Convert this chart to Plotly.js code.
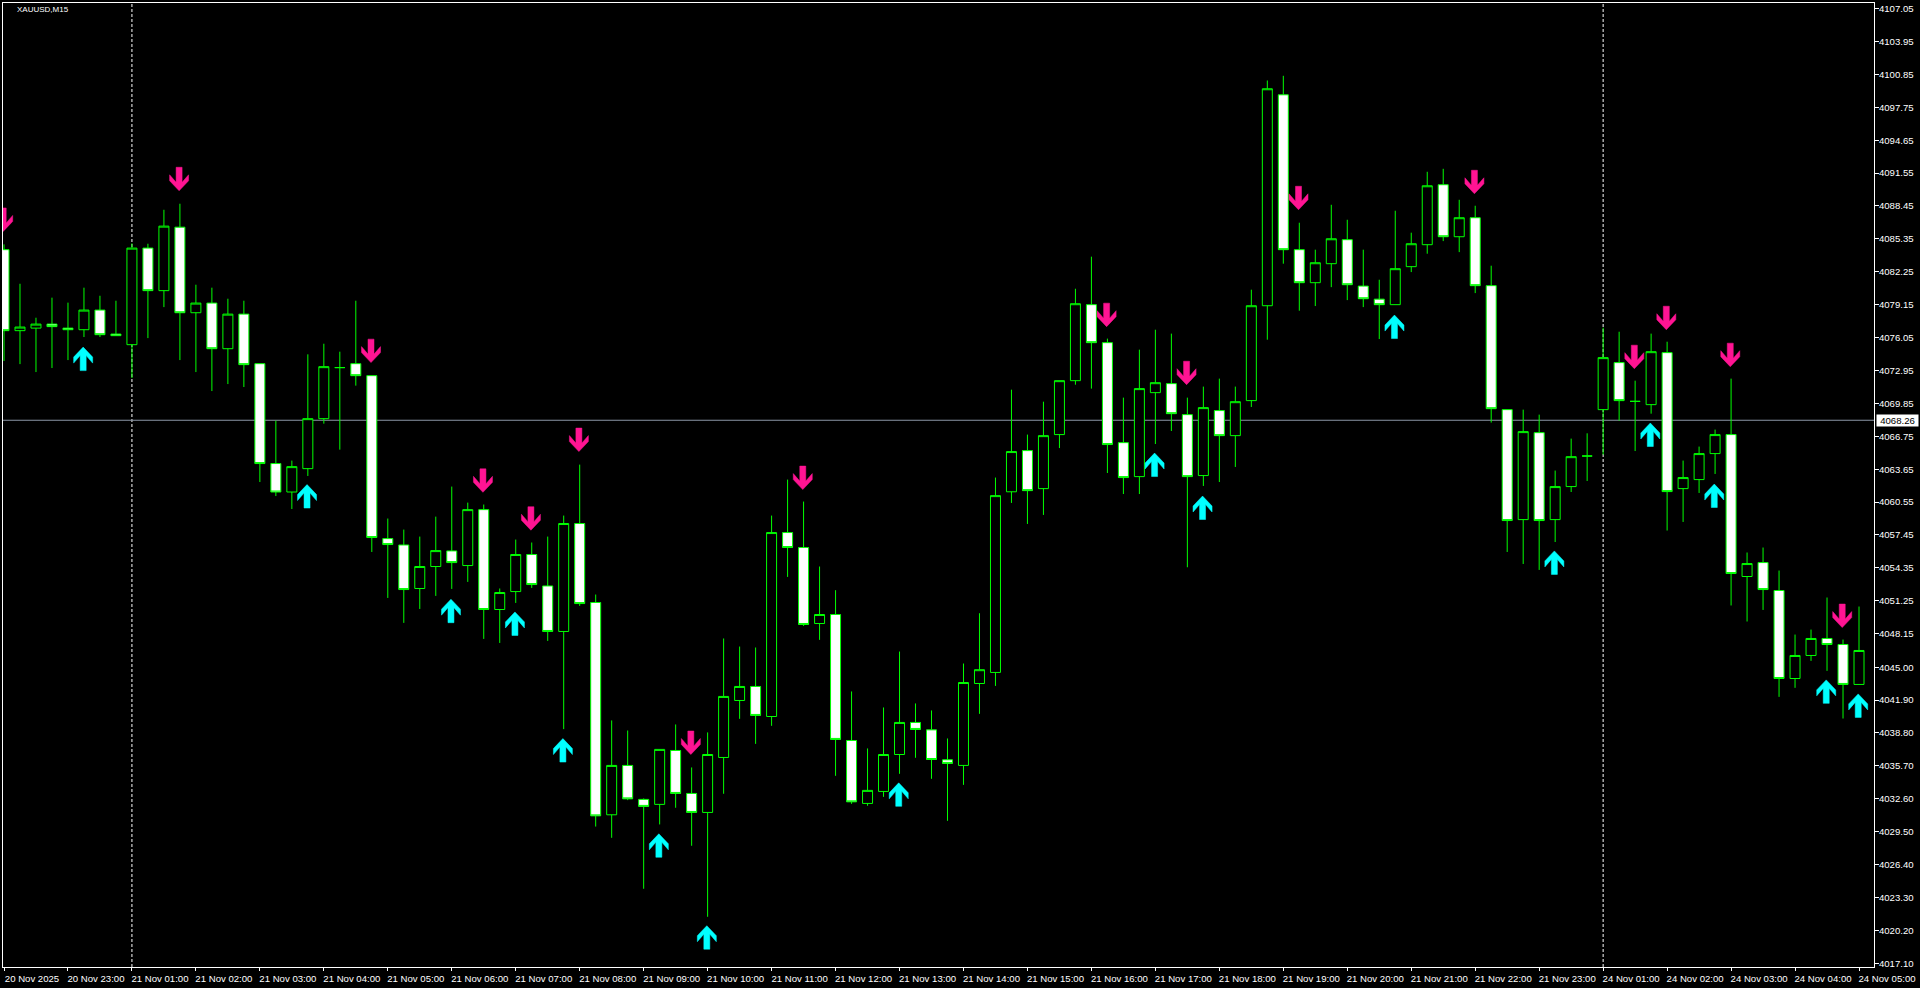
<!DOCTYPE html>
<html>
<head>
<meta charset="utf-8">
<title>XAUUSD,M15</title>
<script src="https://cdn.plot.ly/plotly-3.0.1.min.js"></script>
<style>html,body{margin:0;padding:0;background:#000;overflow:hidden}#chart{width:1920px;height:988px}</style>
</head>
<body>
<div id="chart"></div>
<script>
const barOpen = [4084.33,4076.70,4076.94,4077.32,4076.94,4076.79,4078.64,4076.38,4075.38,4084.48,4080.47,4086.45,4078.39,4079.30,4075.00,4078.26,4073.59,4064.18,4061.50,4063.70,4068.41,4073.22,4073.59,4072.46,4057.11,4056.51,4052.41,4054.48,4055.95,4054.57,4059.84,4050.43,4052.12,4055.61,4052.65,4048.36,4058.53,4051.09,4031.09,4035.74,4032.54,4032.07,4037.15,4033.10,4031.31,4036.49,4041.86,4043.18,4040.35,4057.68,4056.27,4049.11,4049.96,4038.09,4032.16,4033.29,4036.77,4039.79,4039.09,4036.27,4035.74,4043.46,4044.50,4061.52,4065.40,4061.82,4066.91,4071.99,4079.15,4075.57,4066.15,4062.95,4070.86,4071.71,4068.79,4063.05,4069.17,4066.81,4070.11,4079.05,4098.92,4084.33,4081.22,4083.01,4085.27,4080.90,4079.67,4079.15,4082.73,4084.80,4090.45,4085.55,4087.34,4080.94,4069.26,4058.90,4067.09,4058.90,4062.01,4064.89,4069.26,4073.69,4070.04,4069.73,4074.63,4061.82,4062.67,4065.12,4066.91,4053.54,4054.85,4052.22,4043.93,4046.10,4047.70,4047.13,4043.37];
const barHigh = [4084.83,4081.12,4077.92,4079.81,4079.34,4080.75,4079.99,4079.52,4084.92,4084.89,4088.09,4088.66,4081.03,4080.75,4079.71,4079.52,4073.59,4068.22,4064.46,4074.47,4075.47,4074.72,4079.52,4072.46,4059.00,4057.96,4057.30,4059.18,4062.01,4060.50,4060.32,4052.41,4057.02,4056.74,4057.30,4059.28,4064.08,4051.84,4039.98,4039.03,4032.63,4037.25,4039.60,4035.55,4038.85,4047.70,4046.94,4046.85,4059.28,4062.67,4060.60,4054.48,4052.25,4042.71,4037.34,4041.20,4046.47,4041.58,4040.92,4038.28,4045.34,4050.08,4062.86,4071.14,4066.91,4070.01,4071.99,4080.65,4083.67,4075.95,4070.39,4074.91,4076.79,4076.42,4070.39,4071.43,4072.18,4071.43,4080.56,4100.27,4100.71,4086.87,4084.33,4088.56,4087.15,4084.33,4081.50,4088.00,4085.93,4091.67,4091.95,4089.03,4088.47,4082.82,4069.26,4069.26,4068.79,4063.52,4066.53,4067.03,4076.98,4076.60,4071.99,4076.42,4075.66,4064.46,4065.78,4067.38,4072.18,4055.80,4056.27,4054.10,4048.07,4048.54,4051.56,4047.60,4050.71];
const barLow = [4073.84,4073.55,4072.80,4073.18,4073.93,4076.10,4076.10,4076.23,4072.24,4076.00,4078.92,4073.93,4072.80,4071.01,4071.67,4071.39,4062.44,4061.12,4059.90,4063.01,4067.94,4065.49,4071.52,4055.85,4051.52,4049.17,4050.48,4051.71,4052.37,4053.03,4047.66,4047.28,4051.05,4052.46,4047.47,4039.16,4050.77,4029.98,4028.92,4032.47,4024.12,4030.18,4031.75,4028.17,4021.48,4033.07,4040.13,4037.77,4039.47,4053.50,4048.88,4047.57,4034.76,4032.12,4031.94,4032.78,4034.95,4036.46,4034.48,4030.52,4033.91,4040.60,4043.23,4060.47,4058.49,4059.34,4065.64,4071.61,4071.24,4063.29,4061.31,4061.31,4066.02,4067.25,4054.41,4062.07,4062.44,4063.86,4069.51,4075.85,4083.01,4078.58,4079.02,4080.80,4079.58,4078.92,4075.91,4079.15,4082.22,4083.95,4085.14,4084.10,4080.24,4068.04,4055.85,4054.72,4054.16,4056.79,4061.50,4062.54,4065.02,4068.22,4065.36,4068.88,4057.87,4058.68,4061.41,4063.20,4050.81,4049.30,4050.39,4042.20,4043.05,4045.59,4044.65,4040.16,4043.37];
const barClose = [4076.70,4077.04,4077.32,4077.08,4076.79,4078.64,4076.32,4076.23,4084.48,4080.47,4086.55,4078.39,4079.30,4075.00,4078.26,4073.50,4064.18,4061.50,4063.89,4068.41,4073.31,4073.22,4072.46,4057.21,4056.55,4052.31,4054.48,4055.98,4054.85,4059.84,4050.43,4052.03,4055.61,4052.78,4048.36,4058.53,4050.99,4030.99,4035.74,4032.59,4031.88,4037.25,4033.10,4031.31,4036.77,4042.24,4043.18,4040.45,4057.68,4056.27,4049.02,4049.96,4038.19,4032.31,4033.39,4036.77,4039.79,4039.13,4036.30,4035.93,4043.55,4044.76,4061.16,4065.31,4061.63,4066.81,4071.99,4079.24,4075.57,4065.97,4062.86,4071.24,4071.80,4068.88,4062.95,4069.45,4066.81,4070.01,4079.05,4099.49,4084.33,4081.22,4083.10,4085.36,4081.03,4079.71,4079.15,4082.54,4084.89,4090.35,4085.55,4087.34,4080.94,4069.35,4058.81,4067.19,4058.81,4062.01,4064.83,4064.89,4074.16,4070.11,4070.04,4074.72,4061.54,4062.86,4065.12,4066.91,4053.82,4054.76,4052.31,4043.93,4046.10,4047.70,4047.13,4043.37,4046.57];

const sellBars = [0,11,23,30,33,36,43,50,69,74,81,92,102,104,108,115];
const sellTips = [4086.05,4089.88,4073.69,4061.47,4057.90,4065.31,4036.77,4061.73,4077.08,4071.61,4088.09,4089.60,4073.12,4076.79,4073.31,4048.73];
const buyBars = [5,19,28,32,35,41,44,56,72,75,87,97,103,107,114,116];
const buyTips = [4075.15,4062.20,4051.40,4050.20,4038.27,4029.30,4020.64,4034.10,4065.17,4061.12,4078.17,4055.95,4068.00,4062.25,4043.80,4042.48];

const timeTickBars = [0,4,8,12,16,20,24,28,32,36,40,44,48,52,56,60,64,68,72,76,80,84,88,92,96,100,104,108,112,116];
const timeTickLabels = ["20 Nov 2025","20 Nov 23:00","21 Nov 01:00","21 Nov 02:00","21 Nov 03:00","21 Nov 04:00","21 Nov 05:00","21 Nov 06:00","21 Nov 07:00","21 Nov 08:00","21 Nov 09:00","21 Nov 10:00","21 Nov 11:00","21 Nov 12:00","21 Nov 13:00","21 Nov 14:00","21 Nov 15:00","21 Nov 16:00","21 Nov 17:00","21 Nov 18:00","21 Nov 19:00","21 Nov 20:00","21 Nov 21:00","21 Nov 22:00","21 Nov 23:00","24 Nov 01:00","24 Nov 02:00","24 Nov 03:00","24 Nov 04:00","24 Nov 05:00"];
const priceTicks = [4107.05,4103.95,4100.85,4097.75,4094.65,4091.55,4088.45,4085.35,4082.25,4079.15,4076.05,4072.95,4069.85,4066.75,4063.65,4060.55,4057.45,4054.35,4051.25,4048.15,4045.00,4041.90,4038.80,4035.70,4032.60,4029.50,4026.40,4023.30,4020.20,4017.10];
const daySeparators = [8,100];
const bidPrice = 4068.26;

const W = 1920, H = 988;
const M = {l:2.5, r:45.5, t:2.5, b:21};
const xRange = [-0.0625, 116.9375];
const yRange = [4016.75, 4107.57];
const pxPerBar = (W - M.l - M.r) / (xRange[1] - xRange[0]);
const pxPerPrice = (H - M.t - M.b) / (yRange[1] - yRange[0]);

// arrow outline in pixels, relative to its tip; negative y runs back from the tip
const arrowOutline = [[0,0],[-9.5,-10],[-9.5,-16],[-3,-8.5],[-3,-23.5],[3,-23.5],[3,-8.5],[9.5,-16],[9.5,-10],[0,0]];
function arrowPolys(bars, tips, dir, color, name) {
  const xs = [], ys = [];
  bars.forEach((b, i) => {
    arrowOutline.forEach(p => {
      xs.push(b - 0.05 + p[0] / pxPerBar);
      ys.push(tips[i] + dir * p[1] / pxPerPrice);
    });
    xs.push(null); ys.push(null);
  });
  return {type:'scatter', mode:'lines', x:xs, y:ys, fill:'toself', fillcolor:color,
          line:{color:color, width:0.5}, hoverinfo:'skip', showlegend:false, name:name};
}

const barX = barOpen.map((_, i) => i);
const candles = {
  type:'candlestick', x:barX, open:barOpen, high:barHigh, low:barLow, close:barClose,
  whiskerwidth:0, hoverinfo:'skip', showlegend:false,
  increasing:{line:{color:'#00FF00', width:1}, fillcolor:'#000000'},
  decreasing:{line:{color:'#00FF00', width:1}, fillcolor:'#FFFFFF'}
};

const tickFont = {family:'"Liberation Sans", Arial, sans-serif', size:9.6, color:'#FFFFFF'};
const layout = {
  width:W, height:H, margin:M, paper_bgcolor:'#000000', plot_bgcolor:'#000000', showlegend:false,
  boxgap:0.375, boxgroupgap:0,
  title:{text:'XAUUSD,M15', x:17/W, xref:'container', xanchor:'left', y:1-9.5/H, yref:'container', yanchor:'middle', font:{family:tickFont.family, size:8, color:'#FFFFFF'}},
  xaxis:{range:xRange, rangeslider:{visible:false}, showgrid:false, zeroline:false,
    showline:true, mirror:true, linecolor:'#FFFFFF', linewidth:1,
    tickmode:'array', tickvals:timeTickBars, ticktext:timeTickLabels, ticks:'outside', ticklen:3, tickcolor:'#FFFFFF', tickwidth:1,
    tickangle:0, tickfont:tickFont, ticklabelshift:28, ticklabelstandoff:-1, ticklabeloverflow:'allow'},
  yaxis:{range:yRange, side:'right', showgrid:false, zeroline:false,
    showline:true, mirror:true, linecolor:'#FFFFFF', linewidth:1,
    tickmode:'array', tickvals:priceTicks, ticktext:priceTicks.map(v => v.toFixed(2)), ticks:'outside', ticklen:4, tickcolor:'#FFFFFF', tickwidth:1,
    tickfont:tickFont, ticklabelstandoff:-2, ticklabeloverflow:'allow'},
  shapes:[
    ...daySeparators.map(b => ({type:'line', layer:'below', xref:'x', yref:'paper', x0:b, x1:b, y0:0, y1:1, line:{color:'#FFFFFF', width:1, dash:'3px,2px'}})),
    {type:'line', layer:'below', xref:'paper', yref:'y', x0:0, x1:1, y0:bidPrice, y1:bidPrice, line:{color:'#8A95A5', width:1}}
  ],
  annotations:[{xref:'paper', yref:'y', x:1, y:bidPrice, xanchor:'left', yanchor:'middle', xshift:1.5, showarrow:false,
    text:bidPrice.toFixed(2), font:{family:tickFont.family, size:9.6, color:'#000000'}, bgcolor:'#FFFFFF', borderpad:0.5, width:40, height:10, align:'center'}]
};

Plotly.newPlot('chart', [candles,
  arrowPolys(sellBars, sellTips, -1, '#FF1493', 'sell'),
  arrowPolys(buyBars, buyTips, 1, '#00FFFF', 'buy')
], layout, {displayModeBar:false, staticPlot:true});
</script>
</body>
</html>
